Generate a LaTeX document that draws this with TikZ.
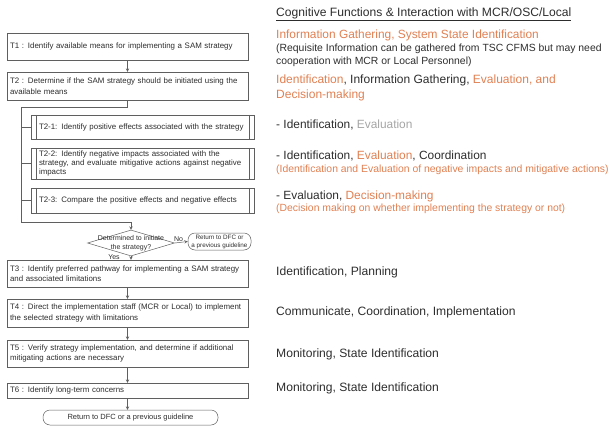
\documentclass[tikz,border=0pt]{standalone}
\usepackage{fontspec}
\setmainfont{Liberation Sans}
\usetikzlibrary{shapes.geometric}

\definecolor{orn}{RGB}{224,128,82}
\definecolor{gry}{RGB}{165,165,165}
\definecolor{ink}{RGB}{45,45,45}
\definecolor{edge}{RGB}{95,95,95}
\hyphenpenalty=10000

\tikzset{
  task/.style={draw=edge, line width=0.5pt, text width=235pt, inner xsep=3pt, inner ysep=0pt,
    align=left, text=ink, font=\fontsize{7.9}{10.5}\selectfont},
  subtask/.style={task, text width=207pt, inner xsep=8pt, font=\fontsize{7.9}{9}\selectfont},
  endbox/.style={draw=edge, line width=0.5pt, rounded corners=7pt, align=center, text=ink,
    inner sep=0pt, font=\fontsize{6.3}{8}\selectfont},
  flow/.style={draw=edge, line width=0.5pt, -stealth},
  cf/.style={anchor=west, inner sep=0pt, text=ink},
}

\begin{document}
\begin{tikzpicture}[x=1pt, y=-1pt]
\useasboundingbox (0,0) rectangle (611,426);

% flow chart
\node[task, minimum height=27pt] (t1) at (127.5,46.5) {T1 : Identify available means for implementing a SAM strategy};
\node[task, minimum height=28pt] (t2) at (127.5,86) {T2 : Determine if the SAM strategy should be initiated using the available means};

\node[subtask, minimum height=24pt] (t21) at (142.5,127) {T2-1: Identify positive effects associated with the strategy};
\node[subtask, minimum height=31pt] (t22) at (142.5,163.5) {T2-2: Identify negative impacts associated with the strategy, and evaluate mitigative actions against negative impacts};
\node[subtask, minimum height=25pt] (t23) at (142.5,200.5) {T2-3: Compare the positive effects and negative effects};
\foreach \s in {t21,t22,t23} {
  \draw[edge, line width=0.5pt] ([xshift=5pt]\s.north west) -- ([xshift=5pt]\s.south west);
  \draw[edge, line width=0.5pt] ([xshift=-5pt]\s.north east) -- ([xshift=-5pt]\s.south east);
}

\node[draw=edge, line width=0.5pt, diamond, minimum width=87pt, minimum height=26pt, inner sep=0pt] (dia) at (131,243) {};
\node[text=ink, align=center, inner sep=0pt, font=\fontsize{7}{9}\selectfont] (diatext) at (dia) {Determined to initiate\\the strategy?};
\node[endbox, minimum width=63pt, minimum height=17pt] (ret) at (219.5,241.5) {Return to DFC or\\a previous guideline};

\node[task, minimum height=27pt] (t3) at (127.5,273.5) {T3 : Identify preferred pathway for implementing a SAM strategy and associated limitations};
\node[task, minimum height=28pt] (t4) at (127.5,313) {T4 : Direct the implementation staff (MCR or Local) to implement the selected strategy with limitations};
\node[task, minimum height=27pt] (t5) at (127.5,353.5) {T5 : Verify strategy implementation, and determine if additional mitigating actions are necessary};
\node[task, minimum height=15pt] (t6) at (127.5,390.5) {T6 : Identify long-term concerns};
\node[endbox, minimum width=175pt, minimum height=15pt, font=\fontsize{7.5}{9}\selectfont] (fin) at (130.5,417.5) {Return to DFC or a previous guideline};

\coordinate (split) at (127.5,107);
\coordinate (bustop) at (21,107);
\coordinate (busend) at (21,222);

\draw[flow] (t1) -- (t2);
\draw[flow] (t2.south) -- (split) -- (bustop) -- (busend) -| (dia.north);
\foreach \s in {t21,t22,t23}
  \draw[edge, line width=0.5pt] (bustop |- \s.west) -- (\s.west);
\draw[flow] (dia.east) -- node[above, pos=0.3, inner sep=1pt, text=ink, font=\fontsize{7}{8}\selectfont] (no) {No} (ret.west);
\draw[flow] (dia.south) -- (dia.south |- t3.north);
\node[text=ink, inner sep=0pt, font=\fontsize{7}{8}\selectfont] (yes) at (114,257.5) {Yes};
\draw[flow] (t3) -- (t4);
\draw[flow] (t4) -- (t5);
\draw[flow] (t5) -- (t6);
\draw[flow] (t6.south) -- (t6.south |- fin.north);

% cognitive functions
\node[cf, font=\fontsize{12.1}{14}\selectfont] (cfhead) at (276,14) {\underline{Cognitive Functions \& Interaction with MCR/OSC/Local}};
\node[cf, text=orn, font=\fontsize{11.9}{14}\selectfont] (cf1) at (276,35) {Information Gathering, System State Identification};
\node[cf, font=\fontsize{10.4}{12}\selectfont] (cf1a) at (276,49) {(Requisite Information can be gathered from TSC CFMS but may need};
\node[cf, font=\fontsize{10.4}{12}\selectfont] (cf1b) at (276,62) {cooperation with MCR or Local Personnel)};
\node[cf, font=\fontsize{12}{14}\selectfont] (cf2) at (276,80) {\textcolor{orn}{Identification}, Information Gathering, \textcolor{orn}{Evaluation, and}};
\node[cf, text=orn, font=\fontsize{12}{14}\selectfont] (cf2b) at (276,95) {Decision-making};
\node[cf, font=\fontsize{11.9}{14}\selectfont] (cf21) at (276,125) {- Identification, \textcolor{gry}{Evaluation}};
\node[cf, font=\fontsize{11.9}{14}\selectfont] (cf22) at (276,156) {- Identification, \textcolor{orn}{Evaluation}, Coordination};
\node[cf, text=orn, font=\fontsize{10.4}{12}\selectfont] (cf22b) at (276,170) {(Identification and Evaluation of negative impacts and mitigative actions)};
\node[cf, font=\fontsize{11.9}{14}\selectfont] (cf23) at (276,196) {- Evaluation, \textcolor{orn}{Decision-making}};
\node[cf, text=orn, font=\fontsize{10.4}{12}\selectfont] (cf23b) at (276,209) {(Decision making on whether implementing the strategy or not)};
\node[cf, font=\fontsize{12.1}{14}\selectfont] (cf3) at (276,272) {Identification, Planning};
\node[cf, font=\fontsize{12.1}{14}\selectfont] (cf4) at (276,312) {Communicate, Coordination, Implementation};
\node[cf, font=\fontsize{12.1}{14}\selectfont] (cf5) at (276,354) {Monitoring, State Identification};
\node[cf, font=\fontsize{12.1}{14}\selectfont] (cf6) at (276,388) {Monitoring, State Identification};
\end{tikzpicture}
\end{document}
